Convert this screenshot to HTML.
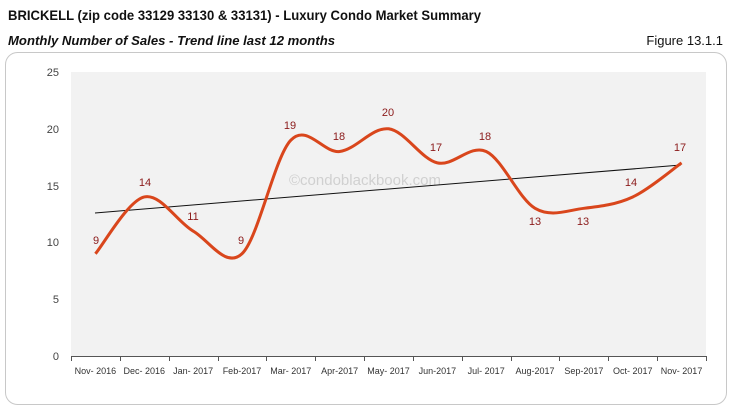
<!DOCTYPE html>
<html><head><meta charset="utf-8"><style>
body{margin:0;background:#fff;width:733px;height:408px;overflow:hidden;font-family:"Liberation Sans",Arial,sans-serif}
</style></head><body>
<svg id="s" width="733" height="408" xmlns="http://www.w3.org/2000/svg" font-family="Liberation Sans, Arial, sans-serif">
<text x="8" y="20" font-size="14" font-weight="bold" fill="#111" textLength="473" lengthAdjust="spacingAndGlyphs">BRICKELL (zip code 33129 33130 &amp; 33131) - Luxury Condo Market Summary</text>
<text x="8" y="45" font-size="13" font-weight="bold" font-style="italic" fill="#111" textLength="327" lengthAdjust="spacingAndGlyphs">Monthly Number of Sales - Trend line last 12 months</text>
<text x="723" y="45" font-size="13" fill="#111" text-anchor="end">Figure 13.1.1</text>
<rect x="5.5" y="52.5" width="721" height="352" rx="12" fill="#fff" stroke="#c8c8c8" stroke-width="1"/>
<rect x="71" y="72" width="635" height="284" fill="#f2f2f2"/>
<g font-size="11" fill="#444" text-anchor="end">
<text x="59" y="76">25</text><text x="59" y="133">20</text><text x="59" y="190">15</text><text x="59" y="246">10</text><text x="59" y="303">5</text><text x="59" y="360">0</text>
</g>
<line x1="71" y1="356.5" x2="706" y2="356.5" stroke="#555"/>
<g id="ticks" stroke="#555"></g>
<g id="xl" font-size="9" fill="#333" text-anchor="middle"></g>
<text x="365" y="185" font-size="15" fill="#d0d0d0" text-anchor="middle">©condoblackbook.com</text>
<line x1="95" y1="213" x2="681" y2="165" stroke="#111" stroke-width="1"/>
<path id="ln" fill="none" stroke="#d9461c" stroke-width="3"/>
<g id="lb" font-size="11" fill="#8b1a1a" text-anchor="middle"></g>
</svg>
<script>
var d=[9,14,11,9,19,18,20,17,18,13,13,14,17];
var m=["Nov- 2016","Dec- 2016","Jan- 2017","Feb-2017","Mar- 2017","Apr-2017","May- 2017","Jun-2017","Jul- 2017","Aug-2017","Sep-2017","Oct- 2017","Nov- 2017"];
var lp=[[96,240],[145,182],[193,216],[241,240],[290,125],[339,136],[388,112],[436,147],[485,136],[535,221],[583,221],[631,182],[680,147]];
var w=635/13,ns="http://www.w3.org/2000/svg";
var P=d.map(function(v,i){return [71+w*(i+0.5),356-v*11.36]});
var s="M"+P[0][0]+","+P[0][1];
for(var i=0;i<P.length-1;i++){var p0=P[i-1]||P[i],p1=P[i],p2=P[i+1],p3=P[i+2]||p2,t=6;
s+=" C"+(p1[0]+(p2[0]-p0[0])/t)+","+(p1[1]+(p2[1]-p0[1])/t)+" "+(p2[0]-(p3[0]-p1[0])/t)+","+(p2[1]-(p3[1]-p1[1])/t)+" "+p2[0]+","+p2[1];}
document.getElementById("ln").setAttribute("d",s);
var T=document.getElementById("ticks"),X=document.getElementById("xl"),L=document.getElementById("lb");
for(var i=0;i<=13;i++){var l=document.createElementNS(ns,"line"),x=Math.round(71+w*i)+0.5;l.setAttribute("x1",x);l.setAttribute("x2",x);l.setAttribute("y1",356);l.setAttribute("y2",361);T.appendChild(l);}
m.forEach(function(t,i){var e=document.createElementNS(ns,"text");e.setAttribute("x",71+w*(i+0.5));e.setAttribute("y",374);e.textContent=t;X.appendChild(e);
var f=document.createElementNS(ns,"text");f.setAttribute("x",lp[i][0]);f.setAttribute("y",lp[i][1]+4);f.textContent=d[i];L.appendChild(f);});
</script>
</body></html>
